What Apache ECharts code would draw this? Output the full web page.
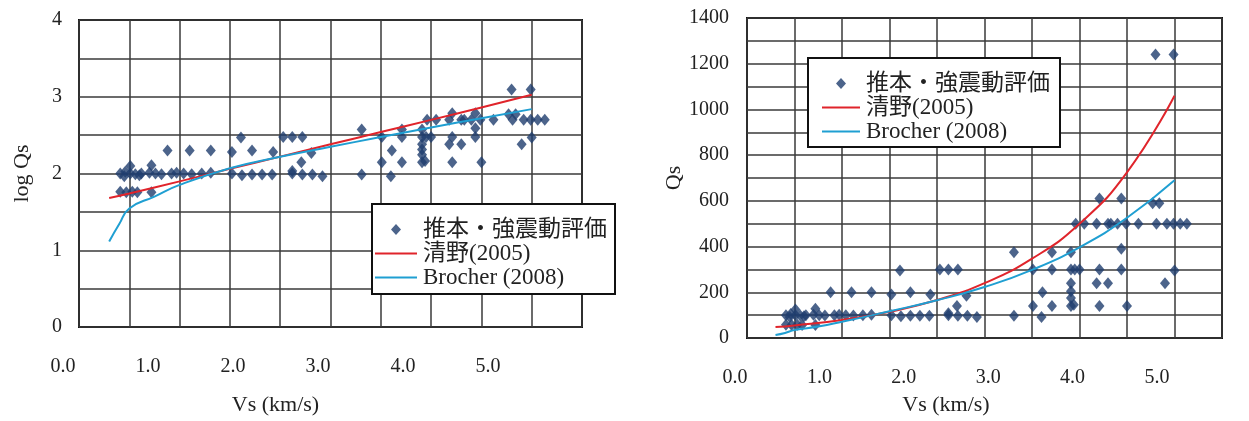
<!DOCTYPE html>
<html><head><meta charset="utf-8">
<script src="https://cdn.jsdelivr.net/npm/echarts@6/dist/echarts.min.js"></script>
<style>html,body{margin:0;padding:0;background:#fff;} #c{width:1249px;height:421px;}</style>
</head><body><div id="c"></div>
<script>
// ---- data ----
const seriesNames = ['推本・強震動評価', '清野(2005)', 'Brocher (2008)'];
// observed points: Vs (km/s) and Qs
const obsVs = [
  0.41,0.46,0.51,0.56,0.62,0.70,0.76,0.82,0.92,0.97,1.04,1.12,1.22,1.31,0.45,0.60,
  0.51,0.72,
  0.41,0.47,0.53,0.58,0.72,
  0.88,1.10,1.31,1.52,1.72,1.93,2.31,
  1.61,
  1.52,1.62,1.72,1.82,1.92,2.12,2.12,2.22,2.32,2.42,
  2.03,2.12,2.22,
  2.21,
  2.81,3.10,
  2.81,
  3.01,3.21,3.41,3.45,3.50,3.71,3.94,4.50,
  3.21,3.41,3.94,
  3.41,3.68,3.80,4.40,
  3.11,3.41,3.41,
  3.01,3.21,3.41,3.44,3.71,4.00,
  3.46,3.55,3.68,3.80,3.83,3.90,3.99,4.12,4.31,4.42,4.49,4.56,4.63,
  3.71,3.94,4.27,4.34,
  4.30,4.49
];
const obsQs = [
  100,105,100,98,100,102,100,98,100,102,100,98,100,102,92,95,
  125,128,
  58,57,58,57,57,
  200,200,200,190,200,190,185,
  295,
  100,95,97,97,97,100,108,97,97,92,
  300,300,300,
  140,
  97,92,
  375,
  300,300,300,300,300,300,300,295,
  375,375,390,
  240,240,240,240,
  200,205,175,
  140,140,140,145,140,140,
  500,500,500,500,500,500,500,500,500,500,500,500,500,
  610,610,590,590,
  1240,1240
];
// 清野(2005) curve
const kiyonoVs = [0.3,0.5,1.0,1.5,2.0,2.5,3.0,3.5,4.0,4.5];
const kiyonoQs = [48,55,79,115,166,240,347,500,725,1060];
// Brocher (2008) curve
const brocherVs = [0.3,0.4,0.5,0.75,1.0,1.5,2.0,2.5,3.0,3.5,4.0,4.5];
const brocherQs = [13,22,35,50,71,117,165,223,298,397,526,690];
// tick labels
const xTickLabels = ['0.0','1.0','2.0','3.0','4.0','5.0'];
const logQsTicks = [0,1,2,3,4];
const qsTicks = [0,200,400,600,800,1000,1200,1400];

// ---- build ----
const pairs = (xs, ys, f) => xs.map((x, i) => [x, f ? f(ys[i]) : ys[i]]);
const lg = v => Math.log10(v);

const FONT = "'Liberation Serif', 'Noto Sans CJK JP', serif";
const gridLine = { show: true, lineStyle: { color: '#3a3a3a', width: 1.5 } };
const DOT = '#1f3d6e', RED = '#e0242b', CYAN = '#1f9fd2';
const LINE_ICON = 'path://M0,0 L40,0 L40,2 L0,2 Z';
// diamond centred in an icon box of width w and height 11
const diamondIcon = w => 'path://M0,5.5L0.01,5.5M' + (w / 2) + ',0L' + (w / 2 + 5) + ',5.5L' + (w / 2) + ',11L' + (w / 2 - 5) + ',5.5ZM' + w + ',5.5L' + (w - 0.01) + ',5.5';

function mainX(gi) {
  return { type: 'value', gridIndex: gi, min: 0, max: 5, interval: 0.5,
    axisLine: { show: false }, axisTick: { show: false }, axisLabel: { show: false },
    splitLine: gridLine };
}
function labelX(gi, margin, nameGap) {
  return { type: 'value', gridIndex: gi, min: 0, max: 5, interval: 1,
    axisLine: { show: false }, axisTick: { show: false }, splitLine: { show: false },
    axisLabel: { margin: margin, fontFamily: FONT, fontSize: 20, color: '#222',
      formatter: v => xTickLabels[Math.round(v)] },
    name: 'Vs (km/s)', nameLocation: 'middle', nameGap: nameGap,
    nameTextStyle: { fontFamily: FONT, fontSize: 22, color: '#222' } };
}
function legendData(w) {
  return [
    { name: seriesNames[0], icon: diamondIcon(w) },
    { name: seriesNames[1], icon: LINE_ICON },
    { name: seriesNames[2], icon: LINE_ICON }
  ];
}

const option = {
  animation: false,
  backgroundColor: '#fff',
  grid: [
    { left: 79, top: 20, width: 503, height: 307, show: true, borderColor: '#111', borderWidth: 2, backgroundColor: 'transparent' },
    { left: 747, top: 18, width: 475, height: 320, show: true, borderColor: '#111', borderWidth: 2, backgroundColor: 'transparent' },
    { left: 63, top: 20, width: 425, height: 307 },
    { left: 735, top: 18, width: 422, height: 320 }
  ],
  xAxis: [ mainX(0), mainX(1), labelX(2, 41, 78), labelX(3, 47, 73) ],
  yAxis: [
    { type: 'value', gridIndex: 0, min: 0, max: 4, interval: 0.5,
      axisLine: { show: false }, axisTick: { show: false }, splitLine: gridLine,
      axisLabel: { margin: 17, fontFamily: FONT, fontSize: 20, color: '#222',
        formatter: v => (logQsTicks.indexOf(v) >= 0 ? String(v) : '') },
      name: 'log Qs', nameLocation: 'middle', nameGap: 46,
      nameTextStyle: { fontFamily: FONT, fontSize: 22, color: '#222' } },
    { type: 'value', gridIndex: 1, min: 0, max: 1400, interval: 100,
      axisLine: { show: false }, axisTick: { show: false }, splitLine: gridLine,
      axisLabel: { margin: 18, fontFamily: FONT, fontSize: 20, color: '#222',
        formatter: v => (qsTicks.indexOf(v) >= 0 ? String(v) : '') },
      name: 'Qs', nameLocation: 'middle', nameGap: 58,
      nameTextStyle: { fontFamily: FONT, fontSize: 22, color: '#222' } },
    { type: 'value', gridIndex: 2, show: false, min: 0, max: 1 },
    { type: 'value', gridIndex: 3, show: false, min: 0, max: 1 }
  ],
  legend: [
    { left: 372, top: 204, orient: 'vertical', itemGap: 1, itemWidth: 42, itemHeight: 11,
      padding: [14, 8, 5, 3], backgroundColor: '#fff', borderColor: '#111', borderWidth: 2, borderRadius: 0,
      textStyle: { fontFamily: FONT, fontSize: 23, color: '#222', padding: [0, 0, 0, 1] },
      data: legendData(42) },
    { left: 808, top: 58, orient: 'vertical', itemGap: 1, itemWidth: 38, itemHeight: 11,
      padding: [14, 10, 4, 14], backgroundColor: '#fff', borderColor: '#111', borderWidth: 2, borderRadius: 0,
      textStyle: { fontFamily: FONT, fontSize: 23, color: '#222', padding: [0, 0, 0, 1] },
      data: legendData(38) }
  ],
  series: [
    { name: seriesNames[1], type: 'line', xAxisIndex: 0, yAxisIndex: 0, smooth: true, symbol: 'none',
      lineStyle: { color: RED, width: 2 }, itemStyle: { color: RED }, data: pairs(kiyonoVs, kiyonoQs, lg) },
    { name: seriesNames[2], type: 'line', xAxisIndex: 0, yAxisIndex: 0, smooth: true, symbol: 'none',
      lineStyle: { color: CYAN, width: 2 }, itemStyle: { color: CYAN }, data: pairs(brocherVs, brocherQs, lg) },
    { name: seriesNames[0], type: 'scatter', xAxisIndex: 0, yAxisIndex: 0, symbol: 'diamond', symbolSize: [10, 12],
      itemStyle: { color: DOT }, data: pairs(obsVs, obsQs, lg) },
    { name: seriesNames[1], type: 'line', xAxisIndex: 1, yAxisIndex: 1, smooth: true, symbol: 'none',
      lineStyle: { color: RED, width: 2 }, itemStyle: { color: RED }, data: pairs(kiyonoVs, kiyonoQs) },
    { name: seriesNames[2], type: 'line', xAxisIndex: 1, yAxisIndex: 1, smooth: true, symbol: 'none',
      lineStyle: { color: CYAN, width: 2 }, itemStyle: { color: CYAN }, data: pairs(brocherVs, brocherQs) },
    { name: seriesNames[0], type: 'scatter', xAxisIndex: 1, yAxisIndex: 1, symbol: 'diamond', symbolSize: [10, 12],
      itemStyle: { color: DOT }, data: pairs(obsVs, obsQs) }
  ]
};
const chart = echarts.init(document.getElementById('c'), null, { renderer: 'canvas' });
chart.setOption(option);
</script>
</body></html>
